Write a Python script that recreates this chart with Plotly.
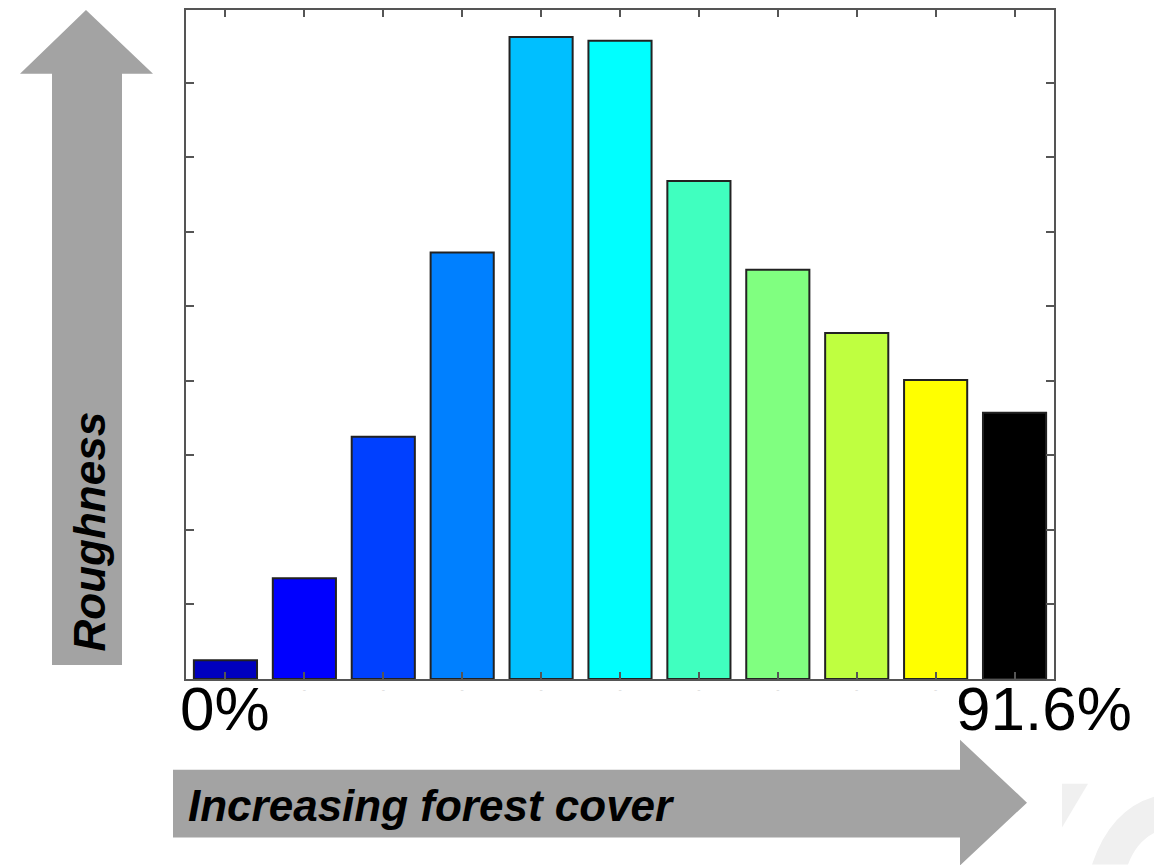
import plotly.graph_objects as go

# ---- data ----
categories = [1, 2, 3, 4, 5, 6, 7, 8, 9, 10, 11]
roughness = [0.25, 1.35, 3.25, 5.72, 8.61, 8.56, 6.68, 5.49, 4.64, 4.01, 3.57]
bar_colors = ["#0000BF", "#0000FF", "#0040FF", "#0080FF", "#00BFFF", "#00FFFF",
              "#40FFBF", "#80FF80", "#BFFF40", "#FFFF00", "#000000"]
tick_text = ["", "-", "-", "-", "-", "-", "-", "-", "-", "-", ""]
end_labels = ["0%", "91.6%"]
y_label = "Roughness"
x_label = "Increasing forest cover"

OFF = 8                      # page body margin offset
W, H = 1162 - OFF, 865 - OFF
L, R, T, B = 186, 1054, 8, 679   # plot area in screen pixels
UNIT = 74.78                 # pixels per y unit


def px(x):
    return (x - L) / (R - L)


def py(y):
    return (B - y) / (B - T)


def path(points):
    return "M " + " L ".join(f"{px(x):.5f},{py(y):.5f}" for x, y in points) + " Z"


fig = go.Figure()
fig.add_trace(go.Bar(
    x=categories, y=roughness, width=0.8,
    marker=dict(color=bar_colors, line=dict(color="#222222", width=2)),
    showlegend=False, hoverinfo="skip",
))

arrow_color = "#a3a3a3"
shapes = [
    dict(type="path", xref="paper", yref="paper", layer="below",
         path=path([(52, 665), (52, 72), (20, 72), (86, 8), (153, 72), (122, 72), (122, 665)]),
         fillcolor=arrow_color, line=dict(width=0)),
    dict(type="path", xref="paper", yref="paper", layer="below",
         path=path([(173, 770), (960, 770), (960, 740), (1027, 803), (960, 866), (960, 838), (173, 838)]),
         fillcolor=arrow_color, line=dict(width=0)),
    # faint background watermark
    dict(type="path", xref="paper", yref="paper", layer="below",
         path=path([(1062, 784), (1088, 784), (1062, 828)]),
         fillcolor="#f0f0f0", line=dict(width=0)),
    dict(type="path", xref="paper", yref="paper", layer="below",
         path=(f"M {px(1092):.5f},{py(865):.5f} Q {px(1112):.5f},{py(805):.5f} {px(1162):.5f},{py(795):.5f} "
               f"L {px(1162):.5f},{py(830):.5f} Q {px(1138):.5f},{py(838):.5f} {px(1128):.5f},{py(865):.5f} Z"),
         fillcolor="#f0f0f0", line=dict(width=0)),
    dict(type="line", xref="paper", yref="paper", layer="below",
         x0=px(1159), x1=px(1159), y0=py(20), y1=py(860),
         line=dict(color="#f2f2f2", width=2)),
]

label_font = dict(family="Liberation Sans, Arial, sans-serif", size=44, color="black",
                  weight="bold", style="italic")
annotations = [
    dict(x=categories[0], y=py(709), xref="x", yref="paper", text=end_labels[0],
         showarrow=False, xanchor="center", yanchor="middle",
         font=dict(family="Liberation Sans, Arial, sans-serif", size=62, color="black")),
    dict(x=categories[-1] + 0.37, y=py(709), xref="x", yref="paper", text=end_labels[1],
         showarrow=False, xanchor="center", yanchor="middle",
         font=dict(family="Liberation Sans, Arial, sans-serif", size=62, color="black")),
    dict(x=px(89), y=py(531), xref="paper", yref="paper", text=y_label, textangle=-90,
         showarrow=False, xanchor="center", yanchor="middle", font=label_font),
    dict(x=px(186), y=py(806), xref="paper", yref="paper", text=x_label,
         showarrow=False, xanchor="left", yanchor="middle", font=label_font),
]

fig.update_layout(
    width=W, height=H,
    margin=dict(l=L - OFF, r=W - (R - OFF), t=T - OFF, b=H - (B - OFF), pad=0),
    paper_bgcolor="white", plot_bgcolor="white",
    shapes=shapes, annotations=annotations,
    xaxis=dict(range=[0.5, 11.5], tickmode="array", tickvals=categories, ticktext=tick_text,
               ticks="inside", ticklen=7, tickwidth=1.5, tickcolor="#555555",
               showline=True, linecolor="#555555", linewidth=2, mirror="ticks",
               showgrid=False, zeroline=False,
               tickfont=dict(size=10, color="#dddddd")),
    yaxis=dict(range=[0, (B - T) / UNIT], tickmode="array", tickvals=[1, 2, 3, 4, 5, 6, 7, 8],
               ticks="inside", ticklen=8, tickwidth=1.5, tickcolor="#555555",
               showline=True, linecolor="#555555", linewidth=2, mirror="ticks",
               showgrid=False, zeroline=False, showticklabels=False),
)

fig.write_html("out.html")
